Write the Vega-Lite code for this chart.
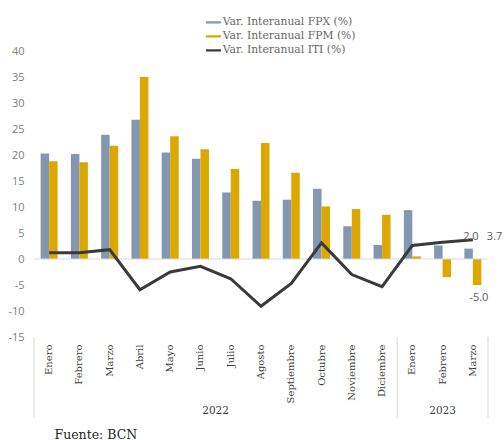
{
  "$schema": "https://vega.github.io/schema/vega-lite/v6.json",
  "width": 454,
  "height": 286,
  "autosize": {"type": "none"},
  "padding": {"left": 34, "top": 51, "right": 16, "bottom": 103},
  "background": "white",
  "config": {"view": {"stroke": null}},
  "datasets": {
    "main": [
      {"key": "Enero 2022", "fpx": 20.3, "fpm": 18.8, "iti": 1.2},
      {"key": "Febrero 2022", "fpx": 20.2, "fpm": 18.6, "iti": 1.2},
      {"key": "Marzo 2022", "fpx": 23.9, "fpm": 21.8, "iti": 1.8},
      {"key": "Abril 2022", "fpx": 26.8, "fpm": 35.0, "iti": -5.9},
      {"key": "Mayo 2022", "fpx": 20.5, "fpm": 23.6, "iti": -2.5},
      {"key": "Junio 2022", "fpx": 19.3, "fpm": 21.1, "iti": -1.4},
      {"key": "Julio 2022", "fpx": 12.8, "fpm": 17.3, "iti": -3.8},
      {"key": "Agosto 2022", "fpx": 11.2, "fpm": 22.3, "iti": -9.1},
      {"key": "Septiembre 2022", "fpx": 11.4, "fpm": 16.6, "iti": -4.7},
      {"key": "Octubre 2022", "fpx": 13.5, "fpm": 10.1, "iti": 3.1},
      {"key": "Noviembre 2022", "fpx": 6.3, "fpm": 9.6, "iti": -3.0},
      {"key": "Diciembre 2022", "fpx": 2.7, "fpm": 8.5, "iti": -5.3},
      {"key": "Enero 2023", "fpx": 9.4, "fpm": 0.5, "iti": 2.6},
      {"key": "Febrero 2023", "fpx": 2.6, "fpm": -3.5, "iti": 3.2},
      {"key": "Marzo 2023", "fpx": 2.0, "fpm": -5.0, "iti": 3.7}
    ]
  },
  "layer": [
    {
      "data": {"name": "main"},
      "transform": [{"fold": ["fpx", "fpm"], "as": ["serie", "valor"]}],
      "mark": {"type": "bar"},
      "encoding": {
        "x": {
          "field": "key", "type": "nominal", "sort": null,
          "scale": {"paddingInner": 0, "paddingOuter": 0},
          "axis": {
            "title": "Fuente: BCN", "titleX": 20, "titleY": 97, "titleAlign": "left", "titleAnchor": "start",
            "titleBaseline": "middle", "titleFont": "DejaVu Serif", "titleFontSize": 12.5, "titleFontWeight": "normal", "titleColor": "#262626",
            "labelAngle": -90, "labelExpr": "split(datum.label, ' ')[0]", "labelFont": "DejaVu Serif", "labelFontSize": 10,
            "labelColor": "#404040", "labelPadding": 7, "ticks": false, "domain": false, "grid": false
          }
        },
        "xOffset": {"field": "serie", "type": "nominal", "scale": {"domain": ["fpx", "fpm"], "paddingInner": 0, "paddingOuter": 0.78}},
        "y": {
          "field": "valor", "type": "quantitative",
          "scale": {"domain": [-15, 40], "nice": false},
          "axis": {
            "title": null, "tickCount": 12, "tickMinStep": 5, "format": "d", "labelExpr": "replace(datum.label, '\u2212', '-')",
            "labelOverlap": false, "labelBound": false, "labelFlush": false,
            "labelFont": "Open Sans", "labelFontSize": 11, "labelColor": "#7f7f7f", "labelPadding": 10,
            "ticks": false, "domain": false, "grid": false
          }
        },
        "color": {
          "field": "serie", "type": "nominal",
          "scale": {"domain": ["fpx", "fpm", "iti"], "range": ["#8497b0", "#dca800", "#3a3a3a"]},
          "legend": {
            "orient": "none", "legendX": 174, "legendY": -34, "title": null, "padding": 0,
            "symbolType": "M-2,-0.3H2V0.3H-2Z", "symbolSize": 56, "symbolStrokeWidth": 0,
            "labelFont": "DejaVu Serif", "labelFontSize": 10.8, "labelColor": "#666666", "labelOffset": 4, "rowPadding": 2,
            "labelExpr": "datum.label == 'fpx' ? 'Var. Interanual FPX (%)' : datum.label == 'fpm' ? 'Var. Interanual FPM (%)' : 'Var. Interanual ITI (%)'"
          }
        }
      }
    },
    {
      "data": {"values": [{}]},
      "mark": {"type": "rule", "color": "#d9d9d9", "strokeWidth": 1},
      "encoding": {"y": {"datum": 0}}
    },
    {
      "data": {"name": "main"},
      "mark": {"type": "line", "strokeWidth": 3},
      "encoding": {
        "x": {"field": "key", "type": "nominal", "sort": null},
        "y": {"field": "iti", "type": "quantitative"},
        "color": {"datum": "iti"}
      }
    },
    {
      "data": {"name": "main"},
      "transform": [{"filter": "datum.key == 'Marzo 2023'"}],
      "mark": {"type": "text", "font": "Open Sans", "fontSize": 11, "color": "#595959", "dy": -12, "dx": -2},
      "encoding": {
        "x": {"field": "key", "type": "nominal", "sort": null},
        "y": {"field": "fpx", "type": "quantitative"},
        "text": {"field": "fpx", "type": "quantitative", "format": ".1f"}
      }
    },
    {
      "data": {"name": "main"},
      "transform": [{"filter": "datum.key == 'Marzo 2023'"}],
      "mark": {"type": "text", "font": "Open Sans", "fontSize": 11, "color": "#595959", "align": "left", "dx": 14, "dy": -3},
      "encoding": {
        "x": {"field": "key", "type": "nominal", "sort": null},
        "y": {"field": "iti", "type": "quantitative"},
        "text": {"field": "iti", "type": "quantitative", "format": ".1f"}
      }
    },
    {
      "data": {"name": "main"},
      "transform": [
        {"filter": "datum.key == 'Marzo 2023'"},
        {"calculate": "replace(format(datum.fpm, '.1f'), '\u2212', '-')", "as": "lbl"}
      ],
      "mark": {"type": "text", "font": "Open Sans", "fontSize": 11, "color": "#595959", "dy": 13, "dx": 6},
      "encoding": {
        "x": {"field": "key", "type": "nominal", "sort": null},
        "y": {"field": "fpm", "type": "quantitative"},
        "text": {"field": "lbl"}
      }
    },
    {
      "data": {"values": [{"key": "Enero 2022"}, {"key": "Enero 2023"}]},
      "mark": {"type": "rule", "color": "#d9d9d9", "strokeWidth": 1},
      "encoding": {
        "x": {"field": "key", "type": "nominal", "sort": null, "bandPosition": 0},
        "y": {"datum": -15},
        "y2": {"datum": -30.6}
      }
    },
    {
      "data": {"values": [{"key": "Marzo 2023"}]},
      "mark": {"type": "rule", "color": "#d9d9d9", "strokeWidth": 1},
      "encoding": {
        "x": {"field": "key", "type": "nominal", "sort": null, "bandPosition": 1},
        "y": {"datum": -15},
        "y2": {"datum": -30.6}
      }
    },
    {
      "data": {"values": [{"key": "Julio 2022", "anio": "2022"}]},
      "mark": {"type": "text", "font": "DejaVu Serif", "fontSize": 10.5, "color": "#404040"},
      "encoding": {
        "x": {"field": "key", "type": "nominal", "sort": null, "bandPosition": 0},
        "y": {"datum": -29.3},
        "text": {"field": "anio"}
      }
    },
    {
      "data": {"values": [{"key": "Febrero 2023", "anio": "2023"}]},
      "mark": {"type": "text", "font": "DejaVu Serif", "fontSize": 10.5, "color": "#404040"},
      "encoding": {
        "x": {"field": "key", "type": "nominal", "sort": null, "bandPosition": 0.5},
        "y": {"datum": -29.3},
        "text": {"field": "anio"}
      }
    }
  ]
}
